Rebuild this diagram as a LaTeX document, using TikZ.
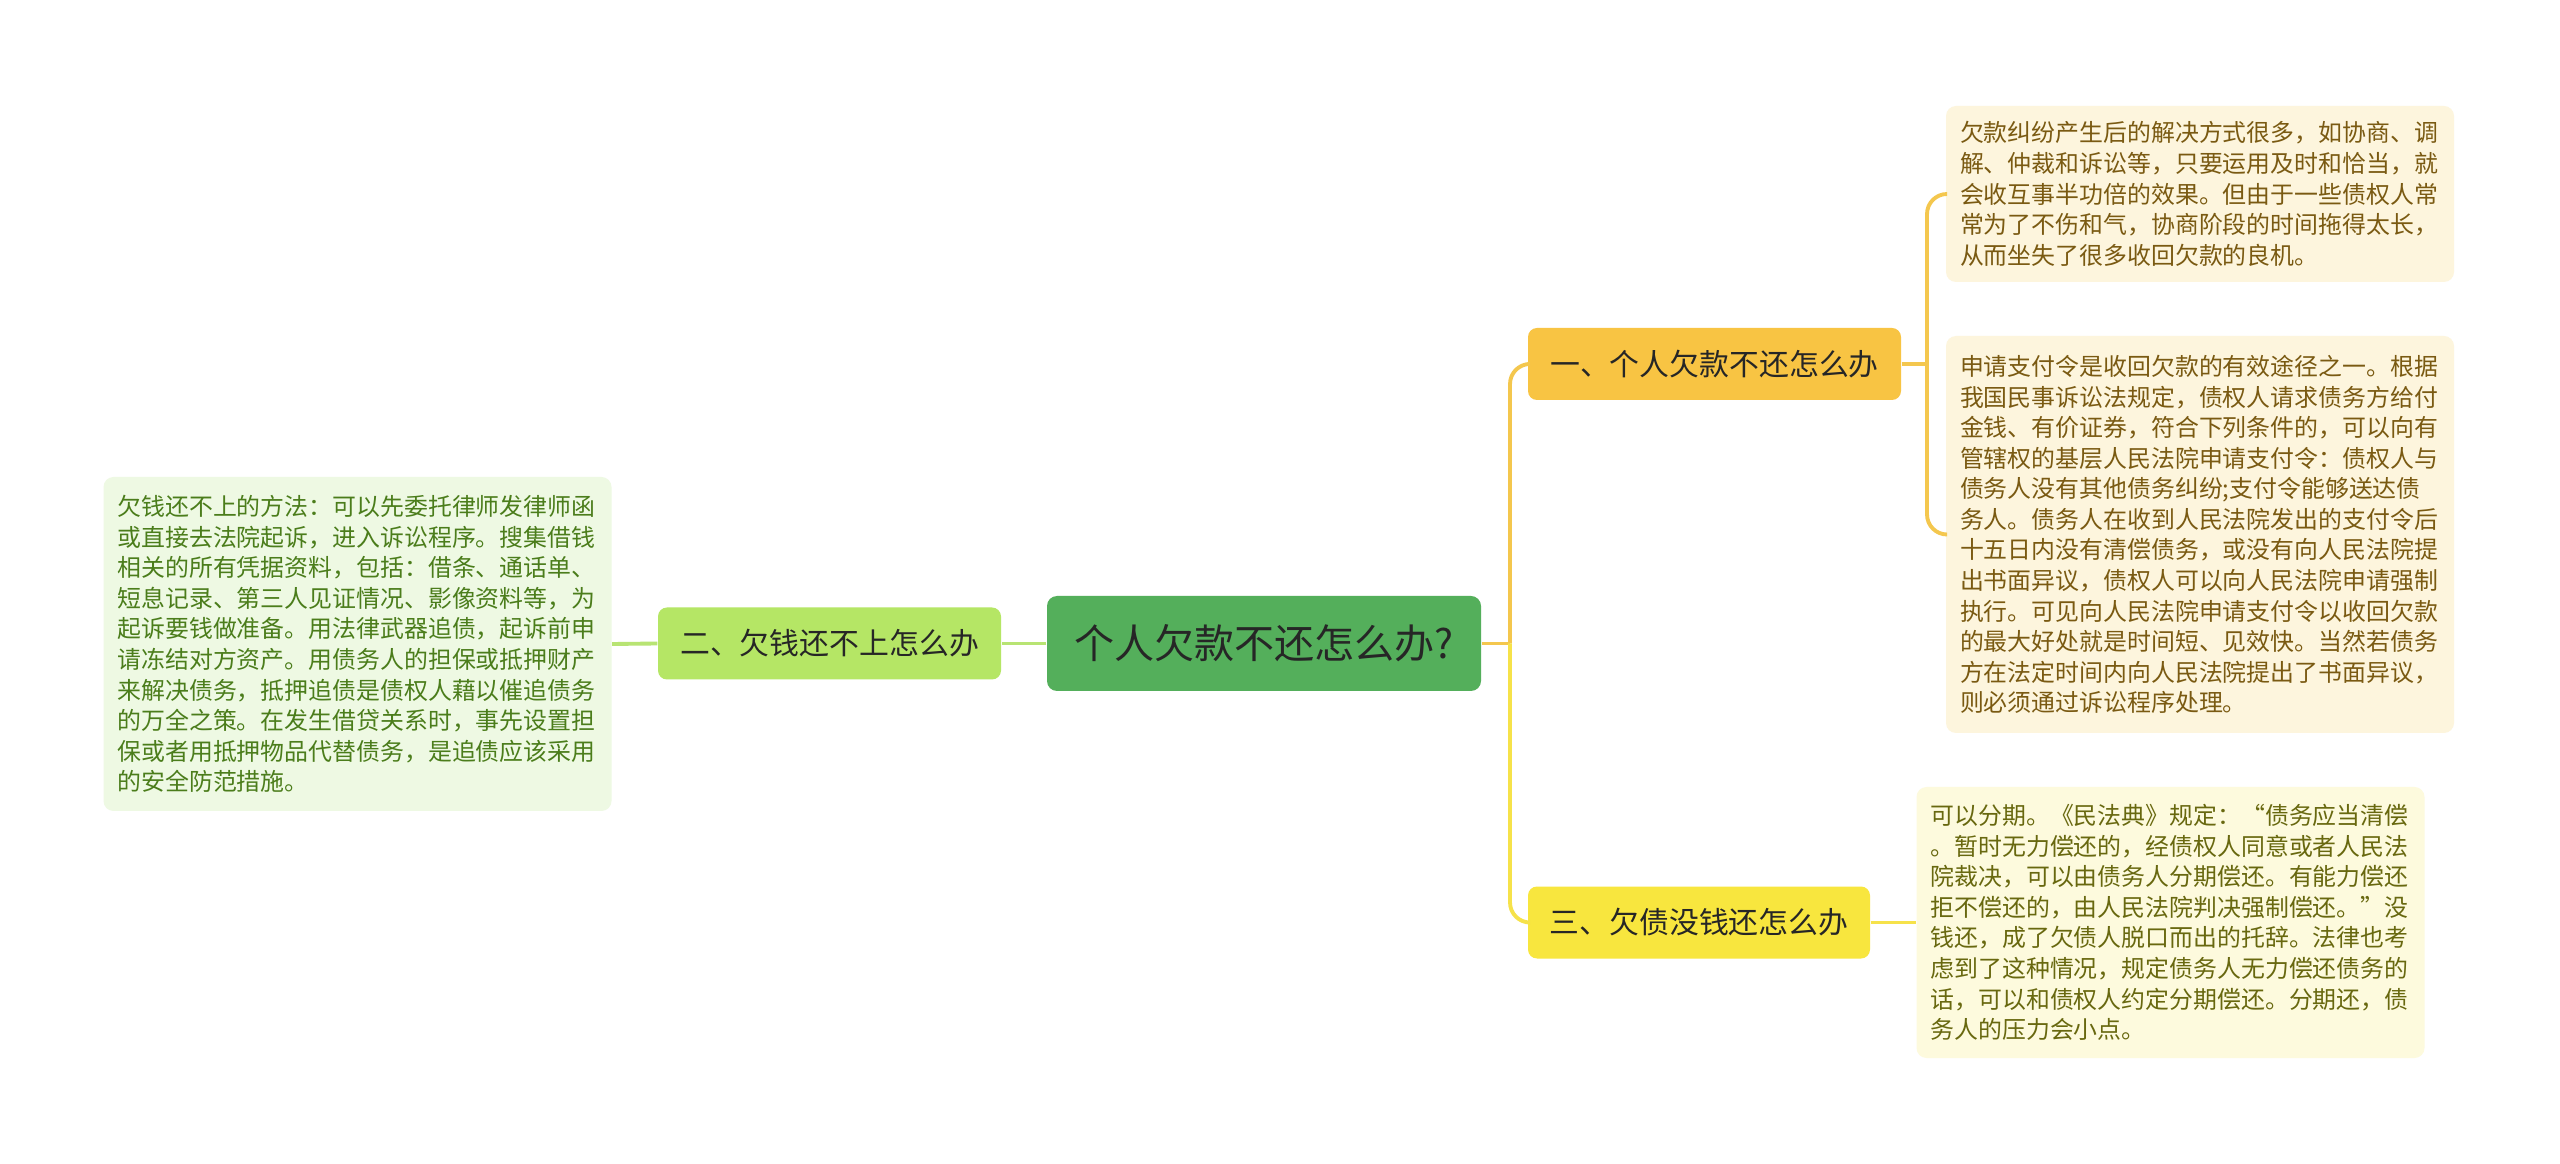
\documentclass[tikz,border=0pt]{standalone}
\usepackage{fontspec}
\setmainfont{Noto Sans CJK SC}
\definecolor{rootfill}{HTML}{54AF5B}
\definecolor{greenfill}{HTML}{B5E665}
\definecolor{greenleaf}{HTML}{EEF9E3}
\definecolor{greentext}{HTML}{4B7D1B}
\definecolor{orangefill}{HTML}{F8C443}
\definecolor{orangeline}{HTML}{F4C74E}
\definecolor{orangeleaf}{HTML}{FDF5DD}
\definecolor{browntext}{HTML}{7A5A12}
\definecolor{yellowfill}{HTML}{F8E63E}
\definecolor{yellowline}{HTML}{F6E24A}
\definecolor{yellowleaf}{HTML}{FDFADD}
\definecolor{olivetext}{HTML}{68680F}
\definecolor{greenline}{HTML}{B8E473}

\begin{document}
\begin{tikzpicture}[font=\fontsize{6.8pt}{8.7pt}\selectfont]
\tikzstyle{leaf}=[rounded corners=0.1cm,align=left,text width=4.8cm,inner xsep=0.14cm,inner ysep=0.1cm]
\tikzstyle{topic}=[rounded corners=0.09cm,minimum height=0.72cm,inner sep=0pt,text=black!85,font=\fontsize{8.5pt}{10pt}\selectfont]
\tikzstyle{link}=[line width=1.1pt]
\fill[white] (0,0) rectangle (25.6,-11.64);
% centre
\node[topic,fill=rootfill,minimum width=4.34cm,minimum height=0.95cm,rounded corners=0.1cm,font=\fontsize{11.4pt}{13pt}\selectfont] (root) at (12.64,-6.435) {个人欠款不还怎么办?};
% branches
\node[topic,fill=orangefill,minimum width=3.73cm] (one) at (17.145,-3.64) {一、个人欠款不还怎么办};
\node[topic,fill=greenfill,minimum width=3.43cm] (two) at (8.295,-6.435) {二、欠钱还不上怎么办};
\node[topic,fill=yellowfill,minimum width=3.42cm] (three) at (16.99,-9.225) {三、欠债没钱还怎么办};
% leaves
\node[leaf,fill=orangeleaf,text=browntext,minimum height=1.76cm] (oneA) at (22.0,-1.94) {欠款纠纷产生后的解决方式很多，如协商、调\\解、仲裁和诉讼等，只要运用及时和恰当，就\\会收互事半功倍的效果。但由于一些债权人常\\常为了不伤和气，协商阶段的时间拖得太长，\\从而坐失了很多收回欠款的良机。};
\node[leaf,fill=orangeleaf,text=browntext,minimum height=3.97cm] (oneB) at (22.0,-5.345) {申请支付令是收回欠款的有效途径之一。根据\\我国民事诉讼法规定，债权人请求债务方给付\\金钱、有价证券，符合下列条件的，可以向有\\管辖权的基层人民法院申请支付令：债权人与\\债务人没有其他债务纠纷;支付令能够送达债\\务人。债务人在收到人民法院发出的支付令后\\十五日内没有清偿债务，或没有向人民法院提\\出书面异议，债权人可以向人民法院申请强制\\执行。可见向人民法院申请支付令以收回欠款\\的最大好处就是时间短、见效快。当然若债务\\方在法定时间内向人民法院提出了书面异议，\\则必须通过诉讼程序处理。};
\node[leaf,fill=greenleaf,text=greentext,minimum height=3.34cm] (twoA) at (3.575,-6.44) {欠钱还不上的方法：可以先委托律师发律师函\\或直接去法院起诉，进入诉讼程序。搜集借钱\\相关的所有凭据资料，包括：借条、通话单、\\短息记录、第三人见证情况、影像资料等，为\\起诉要钱做准备。用法律武器追债，起诉前申\\请冻结对方资产。用债务人的担保或抵押财产\\来解决债务，抵押追债是债权人藉以催追债务\\的万全之策。在发生借贷关系时，事先设置担\\保或者用抵押物品代替债务，是追债应该采用\\的安全防范措施。};
\node[leaf,fill=yellowleaf,text=olivetext,minimum height=2.71cm] (threeA) at (21.705,-9.225) {可以分期。《民法典》规定：“债务应当清偿\\。暂时无力偿还的，经债权人同意或者人民法\\院裁决，可以由债务人分期偿还。有能力偿还\\拒不偿还的，由人民法院判决强制偿还。”没\\钱还，成了欠债人脱口而出的托辞。法律也考\\虑到了这种情况，规定债务人无力偿还债务的\\话，可以和债权人约定分期偿还。分期还，债\\务人的压力会小点。};
% connectors
\coordinate (j) at (15.1,-6.435);
\coordinate (k) at (19.27,-3.64);
\draw[link,orangeline] (root.east) -- (j);
\draw[link,orangeline,rounded corners=0.2cm] (j) |- (one.west);
\draw[link,yellowline,rounded corners=0.2cm] (j) |- (three.west);
\draw[link,greenline] (root.west) -- (two.east);
\draw[link,greenline] (two.west) -- (twoA.east);
\draw[link,orangeline] (one.east) -- (k);
\draw[link,orangeline,rounded corners=0.2cm] (k) |- (oneA.west);
\draw[link,orangeline,rounded corners=0.2cm] (k) |- (oneB.west);
\draw[link,yellowline] (three.east) -- (threeA.west);
\end{tikzpicture}
\end{document}
